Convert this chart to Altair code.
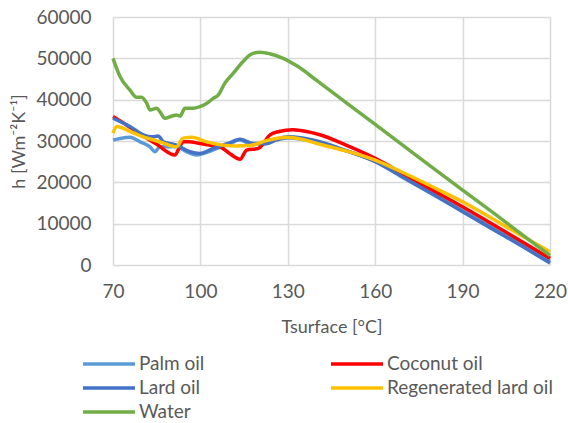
import altair as alt
import pandas as pd

palm_T = [70, 72.4, 75.8, 79.3, 82.7, 84.4, 86.1, 91.8, 95, 98.7, 102, 106, 110, 113.5, 117, 122, 126, 130, 135, 140, 150, 160, 170, 180, 190, 200, 210, 220]
palm_h = [30200, 30600, 30900, 29800, 28600, 27400, 28600, 28600, 27500, 26600, 27200, 28300, 29300, 30300, 29400, 29300, 30200, 30700, 30400, 29700, 27600, 25100, 21200, 17200, 13200, 9100, 5000, 900]

coco_T = [70, 75, 80, 85, 91.3, 92.5, 94.1, 96, 99.8, 103, 106.7, 110, 113.6, 115.9, 119.9, 123.9, 127, 131.7, 136.4, 141, 150, 160, 170, 180, 190, 200, 210, 220]
coco_h = [35900, 33700, 31400, 29200, 26600, 28000, 29800, 29800, 29400, 29000, 28600, 27000, 25600, 27800, 28200, 31500, 32300, 32700, 32300, 31500, 29000, 25800, 21900, 18000, 14100, 10000, 5800, 1600]

lard_T = [70, 75.8, 80.4, 83.3, 85.5, 87.3, 91.8, 96.4, 99.8, 104.4, 109.5, 113.6, 118.1, 122.7, 126, 130, 135, 140, 150, 160, 170, 180, 190, 200, 210, 220]
lard_h = [35500, 33500, 31500, 31000, 31200, 29800, 29000, 27400, 27000, 28200, 29400, 30400, 29400, 29400, 30300, 31000, 30700, 30000, 27700, 25000, 21000, 17000, 12900, 8800, 4700, 500]

regen_T = [70, 71.3, 75.8, 80.4, 86.1, 91.8, 94.1, 97, 102.1, 107.7, 112, 117, 122.7, 129.6, 135, 140, 150, 160, 170, 180, 190, 200, 210, 220]
regen_h = [31900, 33500, 32300, 31000, 29800, 28600, 30700, 30900, 29800, 29000, 28800, 28900, 30100, 30900, 30400, 29400, 27600, 25400, 22200, 18800, 15300, 11300, 7200, 3200]

water_T = [70, 72.4, 75.8, 78.1, 79.8, 81.6, 82.7, 85, 86.1, 87.8, 90.1, 91.8, 93, 94.7, 97.5, 99.8, 102.1, 104.4, 106.1, 108.4, 111.3, 114.1, 117, 120.4, 123.8, 128.4, 133.5, 140, 150, 160, 170, 180, 190, 200, 210, 220]
water_h = [50000, 45600, 42350, 40600, 40600, 39100, 37500, 37900, 37100, 35500, 36000, 36300, 36000, 37900, 37900, 38300, 39100, 40300, 41100, 44000, 46400, 48800, 50800, 51500, 51100, 50000, 48000, 44600, 39300, 34000, 28700, 23400, 18100, 12900, 7600, 2300]

series = ["Palm oil", "Coconut oil", "Lard oil", "Regenerated lard oil", "Water"]
colors = ["#5B9BD5", "#FF0000", "#4472C4", "#FFC000", "#70AD47"]
x_ticks = [70, 100, 130, 160, 190, 220]
y_ticks = [0, 10000, 20000, 30000, 40000, 50000, 60000]

rows = []
for name, T, h in [("Palm oil", palm_T, palm_h), ("Coconut oil", coco_T, coco_h),
                   ("Lard oil", lard_T, lard_h), ("Regenerated lard oil", regen_T, regen_h),
                   ("Water", water_T, water_h)]:
    for t, v in zip(T, h):
        rows.append({"series": name, "T": t, "h": v})
df = pd.DataFrame(rows)

FONT = "Lato"
chart = alt.Chart(df).mark_line(interpolate="monotone", strokeWidth=3.5).encode(
    x=alt.X("T:Q", scale=alt.Scale(domain=[70, 220], nice=False),
            axis=alt.Axis(values=x_ticks, title="Tsurface [°C]", format="d",
                          labelFlush=False, labelPadding=17, titlePadding=17)),
    y=alt.Y("h:Q", scale=alt.Scale(domain=[0, 60000], nice=False),
            axis=alt.Axis(values=y_ticks, title="h [Wm⁻²K⁻¹]", format="d",
                          labelFlush=False, labelPadding=22, titlePadding=7)),
    color=alt.Color("series:N", scale=alt.Scale(domain=series, range=colors),
                    legend=alt.Legend(title=None, orient="none", legendX=-16, legendY=335,
                                      direction="horizontal",
                                      columns=2, columnPadding=119, rowPadding=2,
                                      symbolType="M-2.6,0H2.6", symbolSize=400,
                                      symbolStrokeWidth=3.5, labelOffset=18)),
    detail="series:N",
).properties(
    width=437, height=248,
    autosize=alt.AutoSizeParams(type="none"),
    padding={"left": 113, "top": 17, "right": 18, "bottom": 158},
).configure_axis(
    grid=True, gridColor="#D9D9D9", gridWidth=1.5, domain=False, ticks=False,
    labelFont=FONT, labelFontSize=19, labelColor="#595959",
    titleFont=FONT, titleFontSize=18, titleColor="#595959", titleFontWeight="normal",
).configure_legend(
    labelFont=FONT, labelFontSize=19, labelColor="#595959", labelLimit=300,
).configure_view(stroke=None)

chart.save("out.html", embed_options={"renderer": "svg", "actions": False})
